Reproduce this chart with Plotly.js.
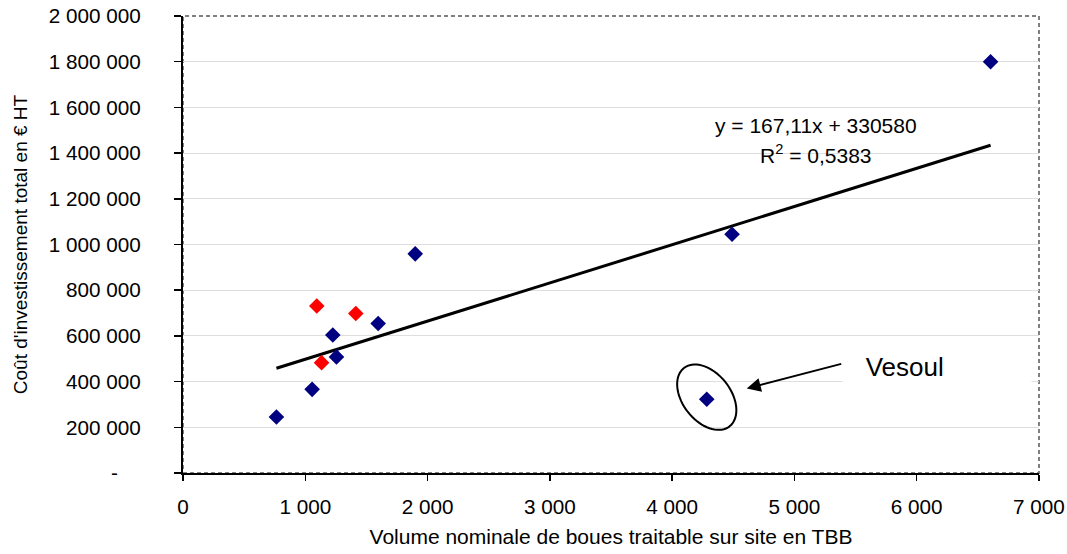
<!DOCTYPE html>
<html>
<head>
<meta charset="utf-8">
<script src="https://cdn.plot.ly/plotly-3.0.1.min.js"></script>
<style>
html,body{margin:0;padding:0;background:#fff;}
#chart{width:1067px;height:554px;}
</style>
</head>
<body>
<div id="chart"></div>
<script>
// Sites (blue)
const blueX = [764, 1056, 1225, 1255, 1596, 1899, 4490, 4283, 6604];
const blueY = [245000, 366000, 604000, 508000, 654000, 959000, 1045000, 323000, 1800000];
// Sites (red)
const redX = [1094, 1413, 1133];
const redY = [731000, 698000, 483000];
// Vesoul point
const vesoulX = 4283;
const vesoulY = 323000;
// Linear trend (Excel)
const slope = 167.11;
const intercept = 330580;
const eqText = "y = 167,11x + 330580";
const r2Text = "R<sup>2</sup> = 0,5383";
// Axis ticks
const xTickVals = [0, 1000, 2000, 3000, 4000, 5000, 6000, 7000];
const xTickText = ["0", "1 000", "2 000", "3 000", "4 000", "5 000", "6 000", "7 000"];
const yTickVals = [0, 200000, 400000, 600000, 800000, 1000000, 1200000, 1400000, 1600000, 1800000, 2000000];
const yTickText = ["-\u00a0\u00a0\u00a0\u00a0", "200 000", "400 000", "600 000", "800 000", "1 000 000", "1 200 000", "1 400 000", "1 600 000", "1 800 000", "2 000 000"];

const allX = blueX.concat(redX);
const tMin = Math.min.apply(null, allX);
const tMax = Math.max.apply(null, allX);
const trendX = [tMin, tMax];
const trendY = trendX.map(v => slope * v + intercept);

const FONT = "Arial, 'Liberation Sans', sans-serif";
const TICK = 20.7;
const TITLE = 21;

// ellipse path (pixel offsets around Vesoul point)
function ellipsePath(a, b, thetaDeg) {
  const t = thetaDeg * Math.PI / 180;
  let p = "";
  for (let i = 0; i <= 72; i++) {
    const u = i / 72 * 2 * Math.PI;
    const ex = a * Math.cos(u), ey = b * Math.sin(u);
    const px = ex * Math.cos(t) - ey * Math.sin(t);
    const py = ex * Math.sin(t) + ey * Math.cos(t) + 2;
    p += (i === 0 ? "M" : "L") + px.toFixed(2) + "," + py.toFixed(2) + " ";
  }
  return p + "Z";
}

const traces = [
  {
    x: trendX, y: trendY, mode: "lines", type: "scatter",
    line: {color: "#000000", width: 3}, hoverinfo: "skip", showlegend: false
  },
  {
    x: blueX, y: blueY, mode: "markers", type: "scatter",
    marker: {symbol: "diamond", size: 12, color: "#000080"}, showlegend: false
  },
  {
    x: redX, y: redY, mode: "markers", type: "scatter",
    marker: {symbol: "diamond", size: 12, color: "#FF0000"}, showlegend: false
  }
];

const layout = {
  width: 1067, height: 554,
  margin: {l: 183, r: 28, t: 16, b: 81, pad: 0},
  paper_bgcolor: "#ffffff", plot_bgcolor: "#ffffff",
  font: {family: FONT, size: TICK, color: "#000000"},
  showlegend: false,
  xaxis: {
    range: [0, 7000], tickvals: xTickVals, ticktext: xTickText,
    showgrid: false, zeroline: false,
    showline: true, linecolor: "#000000", linewidth: 2,
    ticks: "outside", ticklen: 6, tickwidth: 1.5, tickcolor: "#000000",
    ticklabelstandoff: 8,
    tickfont: {family: FONT, size: TICK},
    title: {text: "Volume nominale de boues traitable sur site en TBB", font: {family: FONT, size: TITLE}, standoff: 12}
  },
  yaxis: {
    range: [0, 2000000], tickvals: yTickVals, ticktext: yTickText,
    showgrid: true, gridcolor: "#dedede", gridwidth: 1, zeroline: false,
    showline: true, linecolor: "#000000", linewidth: 2,
    ticks: "outside", ticklen: 7, tickwidth: 1.5, tickcolor: "#000000",
    ticklabelstandoff: 29,
    tickfont: {family: FONT, size: TICK},
    title: {text: "Coût d'investissement total en € HT", font: {family: FONT, size: 19}, standoff: 16}
  },
  shapes: [
    {
      type: "rect", xref: "paper", yref: "paper", x0: 0, x1: 1, y0: 0, y1: 1,
      line: {color: "#808080", width: 2, dash: "4px,3px"}, layer: "below"
    },
    {
      type: "path", xref: "x", yref: "y", xsizemode: "pixel", ysizemode: "pixel",
      xanchor: vesoulX, yanchor: vesoulY,
      path: ellipsePath(37, 24, -52),
      line: {color: "#000000", width: 2}, layer: "above"
    }
  ],
  annotations: [
    {
      xref: "x", yref: "y", x: 5180, y: 1522000, text: eqText, showarrow: false,
      font: {family: FONT, size: TITLE}, xanchor: "center", yanchor: "middle"
    },
    {
      xref: "x", yref: "y", x: 5180, y: 1398000, text: r2Text, showarrow: false,
      font: {family: FONT, size: TITLE}, xanchor: "center", yanchor: "middle"
    },
    {
      xref: "x", yref: "y", x: 5390, y: 463000, xanchor: "left", yanchor: "middle",
      text: "\u00a0\u00a0\u00a0Vesoul", showarrow: false, align: "left",
      width: 186, height: 40, bgcolor: "#ffffff", borderpad: 1,
      font: {family: FONT, size: 26}
    },
    {
      xref: "x", yref: "y", x: 4610, y: 370000, text: "", showarrow: true,
      axref: "pixel", ayref: "pixel", ax: 96, ay: -25,
      arrowhead: 2, arrowsize: 1.4, arrowwidth: 2, arrowcolor: "#000000", standoff: 0
    }
  ]
};

Plotly.newPlot("chart", traces, layout, {displayModeBar: false, staticPlot: true});
</script>
</body>
</html>
